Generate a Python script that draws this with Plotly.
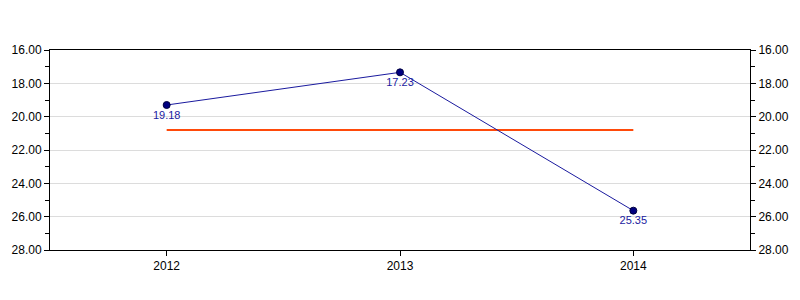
import plotly.graph_objects as go

years = ["2012", "2013", "2014"]
values = [19.30, 17.34, 25.64]
value_labels = ["19.18", "17.23", "25.35"]
average = [20.8, 20.8, 20.8]
y_ticks = [16, 18, 20, 22, 24, 26, 28]

font_family = "Liberation Sans, Arial, sans-serif"

fig = go.Figure()
fig.add_trace(go.Scatter(
    x=years, y=average, mode="lines",
    line=dict(color="#FF4A0A", width=2),
    hoverinfo="skip", showlegend=False,
))
fig.add_trace(go.Scatter(
    x=years, y=values, mode="lines+markers+text",
    line=dict(color="#1A1A9E", width=1),
    marker=dict(color="#000080", size=7, line=dict(color="#000040", width=1)),
    text=value_labels, textposition="bottom center",
    textfont=dict(color="#1A1AA0", size=11, family=font_family),
    showlegend=False,
))
fig.add_trace(go.Scatter(
    x=years, y=values, mode="lines", yaxis="y2",
    line=dict(width=0), opacity=0, hoverinfo="skip", showlegend=False,
))

yaxis_common = dict(
    range=[28, 16], tickvals=y_ticks, tickformat=".2f",
    ticks="outside", ticklen=5, tickcolor="black", tickwidth=1,
    showline=True, linecolor="black", linewidth=1,
    tickfont=dict(size=12, color="black", family=font_family),
    minor=dict(dtick=1, tick0=17, ticks="outside", ticklen=4, tickcolor="black", showgrid=False),
    zeroline=False,
)

fig.update_layout(
    width=800, height=300,
    margin=dict(l=50, r=50, t=50, b=50),
    paper_bgcolor="white", plot_bgcolor="white",
    font=dict(family=font_family, size=12, color="black"),
    xaxis=dict(
        type="category", range=[-0.5, 2.5],
        ticks="outside", ticklen=5, tickcolor="black",
        showline=True, linecolor="black", linewidth=1, mirror=True,
        showgrid=False, tickfont=dict(size=12, color="black", family=font_family),
    ),
    yaxis=dict(**yaxis_common, showgrid=True, gridcolor="#DCDCDC", gridwidth=1, side="left"),
    yaxis2=dict(**yaxis_common, showgrid=False, overlaying="y", side="right"),
)

fig.write_html("out.html")
